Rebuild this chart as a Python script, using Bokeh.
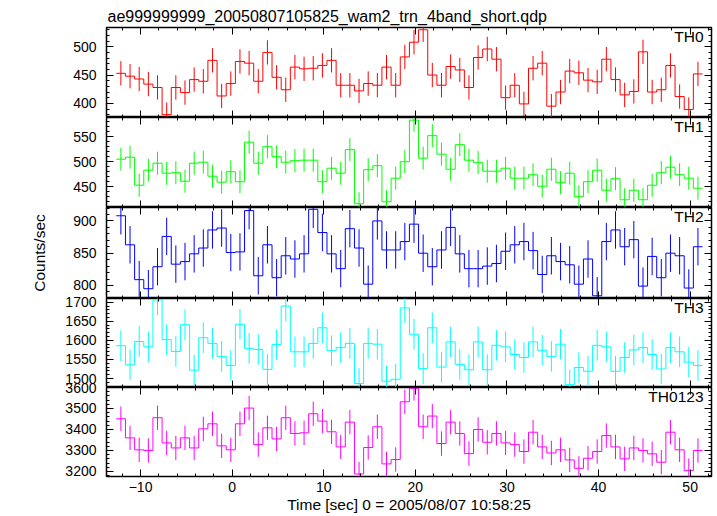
import numpy as np
from bokeh.plotting import figure
from bokeh.models import Range1d, LinearAxis, SingleIntervalTicker, Label
from bokeh.layouts import column
from bokeh.embed import file_html
from bokeh.resources import INLINE

# ---------------- data ----------------
title_text = "ae999999999_20050807105825_wam2_trn_4band_short.qdp"
x_label_text = "Time [sec] 0 = 2005/08/07 10:58:25"
y_label_text = "Counts/sec"

t_first = -12.15      # centre of first 1-s bin
bin_width = 1.0

th0 = [453, 448, 443, 434, 428, 380, 428, 419, 442, 439, 476, 413, 435, 474, 471, 439,
       490, 446, 424, 464, 461, 462, 467, 476, 432, 432, 422, 435, 432, 464,
       432, 482, 508, 530, 450, 432, 465, 459, 428, 481, 496, 478, 410, 432, 399, 462,
       471, 395, 420, 457, 454, 441, 438, 478, 442, 415, 421, 491, 420, 424, 467, 412, 389, 452]
th1 = [505, 509, 453, 483, 497, 477, 478, 461, 497, 499, 471, 459, 480, 460, 539, 497,
       530, 510, 499, 502, 503, 503, 460, 487, 477, 524, 416, 484, 492, 420,
       467, 500, 583, 507, 552, 515, 485, 534, 503, 498, 481, 481, 487, 467, 467, 474,
       451, 485, 458, 477, 430, 460, 483, 443, 466, 424, 443, 424, 453, 478, 489, 474, 467, 447]
th2 = [908, 863, 809, 795, 829, 876, 833, 837, 849, 858, 886, 889, 851, 852, 916, 815,
       863, 812, 846, 841, 849, 918, 882, 849, 826, 888, 858, 802, 900, 855,
       855, 868, 895, 850, 829, 855, 890, 849, 826, 826, 830, 834, 853, 863, 868, 854,
       817, 846, 837, 832, 802, 841, 784, 868, 886, 860, 871, 799, 845, 812, 850, 846, 796, 860]
th3 = [1586, 1536, 1597, 1583, 1706, 1602, 1571, 1641, 1522, 1607, 1592, 1558, 1534, 1642, 1579, 1576,
       1524, 1589, 1690, 1570, 1570, 1592, 1633, 1573, 1581, 1592, 1487, 1592, 1590, 1493,
       1498, 1685, 1616, 1526, 1633, 1530, 1596, 1537, 1523, 1596, 1523, 1587, 1583, 1563, 1555, 1596,
       1574, 1558, 1590, 1484, 1529, 1519, 1587, 1583, 1519, 1555, 1575, 1581, 1563, 1525, 1581, 1570, 1543, 1534]
th0123 = [3451, 3360, 3303, 3300, 3456, 3336, 3312, 3360, 3312, 3403, 3427, 3322, 3303, 3427, 3502, 3328,
          3408, 3355, 3456, 3381, 3384, 3475, 3440, 3389, 3317, 3435, 3188, 3314, 3413, 3236,
          3257, 3532, 3596, 3413, 3464, 3333, 3435, 3381, 3285, 3400, 3339, 3381, 3336, 3328, 3295, 3387,
          3317, 3288, 3303, 3255, 3215, 3263, 3295, 3371, 3317, 3260, 3312, 3300, 3284, 3244, 3387, 3303, 3204, 3300]

panel_names = ["TH0", "TH1", "TH2", "TH3", "TH0123"]
panel_series = [th0, th1, th2, th3, th0123]
panel_err = [21.5, 23, 29, 40, 58]          # 1-sigma half length of error bars
panel_colors = ["#ff0000", "#00ff00", "#0000ff", "#00ffff", "#ff00ff"]
y_limits = [(375, 534), (408.5, 588.3), (779.8, 920.8), (1476.5, 1709.7), (3176, 3600)]
y_major = [50, 50, 50, 50, 100]
x_limits = (-13.72, 52.33)
x_major = 10

# ---------------- layout ----------------
FONT = "Liberation Sans"
fig_width = 717
frame_heights = [90, 90, 91, 89, 89]
overlap = 10                     # lower panels reach up over the one above (transparent)
top_border_first = 27
bottom_border_last = 39

x_range = Range1d(*x_limits)


def style_axis(ax, show_labels, standoff=10):
    ax.axis_line_color = None
    ax.major_tick_in = 7
    ax.major_tick_out = 0
    ax.minor_tick_in = 3
    ax.minor_tick_out = 0
    ax.major_tick_line_color = "black"
    ax.minor_tick_line_color = "black"
    ax.major_tick_line_width = 1
    ax.minor_tick_line_width = 1
    if show_labels:
        ax.major_label_text_font = FONT
        ax.major_label_text_font_size = "14px"
        ax.major_label_text_color = "black"
        ax.major_label_standoff = standoff
    else:
        ax.major_label_text_font_size = "0px"
        ax.major_label_text_color = None
        ax.major_label_standoff = 0
    ax.axis_label_text_font = FONT
    ax.axis_label_text_font_size = "15.5px"
    ax.axis_label_text_font_style = "normal"
    ax.axis_label_text_color = "black"


figs = []
n_panels = len(panel_names)
for k in range(n_panels):
    vals = np.asarray(panel_series[k], dtype=float)
    n = len(vals)
    centres = t_first + bin_width * np.arange(n)
    edges = np.append(centres - bin_width / 2, centres[-1] + bin_width / 2)
    step_y = np.append(vals, vals[-1])
    err = panel_err[k]

    first = (k == 0)
    last = (k == n_panels - 1)
    b_top = top_border_first if first else overlap
    b_bottom = bottom_border_last if last else 0
    extra = {} if first else {"margin": (-overlap, 0, 0, 0)}

    p = figure(width=fig_width, height=frame_heights[k] + b_top + b_bottom,
               x_range=x_range, y_range=Range1d(*y_limits[k]),
               output_backend="svg", toolbar_location=None,
               x_axis_location=None, y_axis_location=None,
               min_border_left=106, min_border_right=6,
               min_border_top=b_top, min_border_bottom=b_bottom,
               outline_line_color="black", outline_line_width=1.5,
               background_fill_color="white",
               border_fill_color="white" if first else None,
               **extra)

    for g in p.grid:
        g.visible = False

    xt = SingleIntervalTicker(interval=x_major, num_minor_ticks=5)
    yt = SingleIntervalTicker(interval=y_major[k], num_minor_ticks=5)

    ax_below = LinearAxis(ticker=xt)
    style_axis(ax_below, last, standoff=5)
    if last:
        ax_below.axis_label = x_label_text
        ax_below.axis_label_standoff = 1
    p.add_layout(ax_below, "below")

    ax_above = LinearAxis(ticker=xt)
    style_axis(ax_above, False)
    p.add_layout(ax_above, "above")

    ax_left = LinearAxis(ticker=yt)
    style_axis(ax_left, True, standoff=10)
    if k == 2:
        ax_left.axis_label = y_label_text
        ax_left.axis_label_standoff = 22
    p.add_layout(ax_left, "left")

    ax_right = LinearAxis(ticker=yt)
    style_axis(ax_right, False)
    p.add_layout(ax_right, "right")

    p.step(x=edges, y=step_y, mode="after", line_color=panel_colors[k], line_width=1)
    p.segment(x0=centres, y0=vals - err, x1=centres, y1=vals + err,
              line_color=panel_colors[k], line_width=1)

    p.add_layout(Label(x=x_limits[1], y=y_limits[k][1], text=panel_names[k],
                       text_align="right", text_baseline="top",
                       x_offset=-8, y_offset=0,
                       text_font=FONT, text_font_size="15.5px", text_color="black"))

    if first:
        p.title.text = title_text
        p.title.text_font = FONT
        p.title.text_font_size = "16px"
        p.title.text_font_style = "normal"
        p.title.text_color = "black"
        p.title.align = "left"
        p.title.offset = 1
        p.title.standoff = 5

    figs.append(p)

layout = column(*figs, spacing=0)
open("out.html", "w").write(file_html(layout, INLINE))
